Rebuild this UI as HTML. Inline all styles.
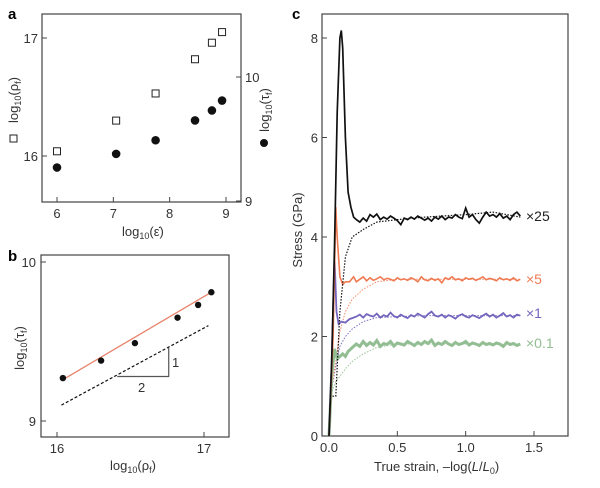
<!DOCTYPE html>
<html><head><meta charset="utf-8"><style>
body{margin:0;background:#fff;}
svg{display:block;font-family:"Liberation Sans",sans-serif;}
</style></head><body>
<svg id="fig" width="600" height="488" viewBox="0 0 600 488"></svg>
<script>
// ---- Panel a data ----
const aStrainRate = [6.0, 7.05, 7.75, 8.45, 8.75, 8.93];
const aRho = [16.04, 16.30, 16.53, 16.82, 16.96, 17.05];
const aTau = [9.27, 9.38, 9.49, 9.65, 9.73, 9.81];
const aXTicks = [6, 7, 8, 9];
const aYTicks = [16, 17];
const aY2Ticks = [9, 10];
// ---- Panel b data ----
const bFitX = [16.04, 17.05];
const bFitY = [9.26, 9.81];
const bRefX = [16.03, 17.03];
const bRefY = [9.10, 9.60];
const bXTicks = [16, 17];
const bYTicks = [9, 10];
// ---- Panel c data ----
const cXTicks = [0.0, 0.5, 1.0, 1.5];
const cXTickLabels = ["0.0", "0.5", "1.0", "1.5"];
const cYTicks = [0, 2, 4, 6, 8];
const plateauStart = 0.2, plateauStep = 0.025;
const blackRiseX = [0, 0.02, 0.04, 0.06, 0.08, 0.09, 0.1, 0.12, 0.14, 0.16, 0.18];
const blackRiseY = [0, 1.5, 3.8, 6.5, 8.0, 8.15, 7.8, 6.0, 4.9, 4.6, 4.4];
const blackPlateau = [4.35,4.3,4.38,4.32,4.45,4.4,4.46,4.35,4.4,4.36,4.42,4.38,4.33,4.25,4.38,4.35,4.4,4.36,4.42,4.38,4.34,4.38,4.32,4.4,4.36,4.42,4.35,4.4,4.38,4.45,4.4,4.37,4.58,4.4,4.45,4.35,4.28,4.4,4.5,4.42,4.45,4.4,4.47,4.38,4.42,4.35,4.45,4.5,4.42];
const orangeRiseX = [0, 0.03, 0.05, 0.06, 0.08, 0.1, 0.12, 0.15, 0.18];
const orangeRiseY = [0, 2.0, 4.6, 4.0, 3.2, 3.05, 3.1, 3.1, 3.2];
const orangePlateau = [3.1,3.15,3.2,3.12,3.18,3.13,3.16,3.2,3.14,3.17,3.15,3.12,3.18,3.14,3.16,3.13,3.18,3.15,3.1,3.2,3.14,3.12,3.17,3.13,3.16,3.08,3.18,3.15,3.2,3.14,3.16,3.12,3.18,3.15,3.17,3.13,3.16,3.2,3.14,3.17,3.15,3.12,3.18,3.14,3.16,3.13,3.18,3.12,3.15];
const purpleRiseX = [0, 0.02, 0.04, 0.055, 0.07, 0.09, 0.12, 0.15, 0.18];
const purpleRiseY = [0, 1.5, 3.6, 2.5, 2.25, 2.3, 2.28, 2.35, 2.38];
const purplePlateau = [2.4,2.44,2.38,2.45,2.42,2.4,2.46,2.38,2.43,2.4,2.48,2.41,2.38,2.44,2.4,2.37,2.43,2.4,2.46,2.42,2.38,2.45,2.5,2.42,2.4,2.44,2.38,2.43,2.4,2.36,2.42,2.45,2.4,2.38,2.43,2.4,2.37,2.42,2.46,2.4,2.44,2.38,2.42,2.47,2.4,2.43,2.38,2.44,2.42];
const greenRiseX = [0, 0.02, 0.04, 0.06, 0.08, 0.1, 0.12, 0.14, 0.16, 0.18];
const greenRiseY = [0, 1.2, 1.75, 1.55, 1.6, 1.65, 1.6, 1.7, 1.75, 1.8];
const greenPlateau = [1.85,1.8,1.9,1.82,1.88,1.83,1.92,1.8,1.86,1.84,1.9,1.81,1.87,1.85,1.83,1.9,1.86,1.82,1.88,1.84,1.9,1.86,1.93,1.82,1.87,1.84,1.9,1.85,1.82,1.88,1.84,1.86,1.9,1.83,1.87,1.85,1.82,1.88,1.84,1.86,1.83,1.87,1.85,1.8,1.88,1.84,1.86,1.82,1.85];
const dotX = [0, 0.01, 0.05, 0.08, 0.12, 0.17, 0.25, 0.35, 0.5, 0.7, 1.0, 1.2, 1.4];
const blackDot = [0, 0.8, 0.8, 2.5, 3.6, 4.0, 4.15, 4.3, 4.35, 4.4, 4.45, 4.5, 4.4];
const orangeDot = [0, 0.8, 1.5, 2.1, 2.5, 2.75, 2.95, 3.1, 3.15, 3.15, 3.15, 3.15, 3.15];
const purpleDot = [0, 0.8, 1.4, 1.8, 2.0, 2.15, 2.3, 2.38, 2.4, 2.42, 2.42, 2.42, 2.42];
const greenDot = [0, 0.8, 1.1, 1.2, 1.35, 1.5, 1.65, 1.78, 1.85, 1.85, 1.85, 1.85, 1.85];

const NS = "http://www.w3.org/2000/svg";
const svg = document.getElementById("fig");
function mk(tag, attrs, name, parent) {
  const e = document.createElementNS(NS, tag);
  for (const k in attrs) e.setAttribute(k, attrs[k]);
  
  
  (parent || svg).appendChild(e);
  return e;
}
function txt(x, y, s, name, extra) {
  const t = mk("text", Object.assign({x: x, y: y, "font-size": 13, fill: "#333"}, extra || {}), name);
  t.textContent = s;
  return t;
}
function lin(d0, d1, r0, r1) { return v => r0 + (v - d0) * (r1 - r0) / (d1 - d0); }
const AX = "#444";

// ===== Panel a =====
const ax = lin(6, 9, 57, 226), ayL = lin(16, 17, 156, 38), ayR = lin(9, 10, 201, 77);
txt(8, 19, "a", "panel-a-label", {"font-weight": "bold", "font-size": 15, fill: "#000"});
mk("rect", {x: 42, y: 14, width: 199, height: 188, fill: "none", stroke: AX, "stroke-width": 1.2}, "panel-a-frame");
aXTicks.forEach(v => { mk("line", {x1: ax(v), x2: ax(v), y1: 202, y2: 197, stroke: AX}, "a-x-tick"); txt(ax(v), 218, String(v), "a-x-tick-label", {"text-anchor": "middle"}); });
aYTicks.forEach(v => { mk("line", {x1: 42, x2: 47, y1: ayL(v), y2: ayL(v), stroke: AX}, "a-y-tick"); txt(38, ayL(v) + 5, String(v), "a-y-tick-label", {"text-anchor": "end"}); });
aY2Ticks.forEach(v => { mk("line", {x1: 241, x2: 236, y1: ayR(v), y2: ayR(v), stroke: AX}, "a-y2-tick"); txt(245, ayR(v) + 5, String(v), "a-y2-tick-label"); });
txt(122, 236, "log", "a-x-axis-title").innerHTML = 'log<tspan font-size="9" dy="3">10</tspan><tspan dy="-3">(ε̇)</tspan>';
const aYt = txt(0, 0, "", "a-y-axis-title", {transform: "translate(18,100) rotate(-90)", "text-anchor": "middle"});
aYt.innerHTML = 'log<tspan font-size="9" dy="3">10</tspan><tspan dy="-3">(ρ</tspan><tspan font-size="9" dy="3">f</tspan><tspan dy="-3">)</tspan>';
mk("rect", {x: 10, y: 135, width: 7, height: 7, fill: "none", stroke: "#222"}, "a-square-legend-marker");
const aY2t = txt(0, 0, "", "a-y2-axis-title", {transform: "translate(269,110) rotate(-90)", "text-anchor": "middle"});
aY2t.innerHTML = 'log<tspan font-size="9" dy="3">10</tspan><tspan dy="-3">(τ</tspan><tspan font-size="9" dy="3">f</tspan><tspan dy="-3">)</tspan>';
mk("circle", {cx: 264, cy: 143, r: 4, fill: "#111"}, "a-circle-legend-marker");
aStrainRate.forEach((v, i) => {
  mk("rect", {x: ax(v) - 3.5, y: ayL(aRho[i]) - 3.5, width: 7, height: 7, fill: "#fff", stroke: "#222"}, "a-rho-point");
  mk("circle", {cx: ax(v), cy: ayR(aTau[i]), r: 4.3, fill: "#111"}, "a-tau-point");
});

// ===== Panel b =====
const bx = lin(16, 17, 57, 204), by = lin(9, 10, 421, 262);
txt(8, 261, "b", "panel-b-label", {"font-weight": "bold", "font-size": 15, fill: "#000"});
mk("rect", {x: 41, y: 255, width: 188, height: 182, fill: "none", stroke: AX, "stroke-width": 1.2}, "panel-b-frame");
bXTicks.forEach(v => { mk("line", {x1: bx(v), x2: bx(v), y1: 437, y2: 432, stroke: AX}, "b-x-tick"); txt(bx(v), 453, String(v), "b-x-tick-label", {"text-anchor": "middle"}); });
bYTicks.forEach(v => { mk("line", {x1: 41, x2: 46, y1: by(v), y2: by(v), stroke: AX}, "b-y-tick"); txt(36, by(v) + 5, String(v), "b-y-tick-label", {"text-anchor": "end"}); });
txt(110, 470, "", "b-x-axis-title").innerHTML = 'log<tspan font-size="9" dy="3">10</tspan><tspan dy="-3">(ρ</tspan><tspan font-size="9" dy="3">f</tspan><tspan dy="-3">)</tspan>';
txt(0, 0, "", "b-y-axis-title", {transform: "translate(24,348) rotate(-90)", "text-anchor": "middle"}).innerHTML = 'log<tspan font-size="9" dy="3">10</tspan><tspan dy="-3">(τ</tspan><tspan font-size="9" dy="3">f</tspan><tspan dy="-3">)</tspan>';
mk("line", {x1: bx(bFitX[0]), y1: by(bFitY[0]), x2: bx(bFitX[1]), y2: by(bFitY[1]), stroke: "#e8826a", "stroke-width": 1.3}, "b-fit-line");
mk("line", {x1: bx(bRefX[0]), y1: by(bRefY[0]), x2: bx(bRefX[1]), y2: by(bRefY[1]), stroke: "#111", "stroke-width": 1.2, "stroke-dasharray": "3,2"}, "b-slope-half-line");
mk("polyline", {points: `${bx(16.41)},${by(9.28)} ${bx(16.76)},${by(9.28)} ${bx(16.76)},${by(9.46)}`, fill: "none", stroke: "#555", "stroke-width": 1.2}, "b-slope-triangle");
txt(172, 367, "1", "b-slope-rise-label");
txt(138, 392, "2", "b-slope-run-label");
aRho.forEach((v, i) => mk("circle", {cx: bx(v), cy: by(aTau[i]), r: 3.2, fill: "#111"}, "b-point"));

// ===== Panel c =====
const cx = lin(0, 1.5, 329, 534), cy = lin(0, 8, 436, 38);
txt(292, 19, "c", "panel-c-label", {"font-weight": "bold", "font-size": 15, fill: "#000"});
mk("rect", {x: 322, y: 14, width: 246, height: 422, fill: "none", stroke: AX, "stroke-width": 1.2}, "panel-c-frame");
cXTicks.forEach((v, i) => { mk("line", {x1: cx(v), x2: cx(v), y1: 436, y2: 431, stroke: AX}, "c-x-tick"); txt(cx(v), 452, cXTickLabels[i], "c-x-tick-label", {"text-anchor": "middle"}); });
cYTicks.forEach(v => { mk("line", {x1: 322, x2: 327, y1: cy(v), y2: cy(v), stroke: AX}, "c-y-tick"); txt(318, cy(v) + 5, String(v), "c-y-tick-label", {"text-anchor": "end"}); });
txt(374, 471, "", "c-x-axis-title").innerHTML = 'True strain, –log(<tspan font-style="italic">L</tspan>/<tspan font-style="italic">L</tspan><tspan font-size="9" dy="3">0</tspan><tspan dy="-3">)</tspan>';
txt(0, 0, "Stress (GPa)", "c-y-axis-title", {transform: "translate(302,230) rotate(-90)", "text-anchor": "middle"});

function seriesPts(rx, ry, plat) {
  const p = rx.map((x, i) => [x, ry[i]]);
  plat.forEach((y, i) => p.push([plateauStart + i * plateauStep, y]));
  return p.map(q => cx(q[0]).toFixed(1) + "," + cy(q[1]).toFixed(1)).join(" ");
}
function dotPts(ys) { return dotX.map((x, i) => cx(x).toFixed(1) + "," + cy(ys[i]).toFixed(1)).join(" "); }

mk("polyline", {points: dotPts(greenDot), fill: "none", stroke: "#9cc49c", "stroke-width": 1, "stroke-dasharray": "1.5,1.5"}, "green-model-curve");
mk("polyline", {points: dotPts(purpleDot), fill: "none", stroke: "#7b6fc0", "stroke-width": 1, "stroke-dasharray": "1.5,1.5"}, "purple-model-curve");
mk("polyline", {points: dotPts(orangeDot), fill: "none", stroke: "#f08a66", "stroke-width": 1, "stroke-dasharray": "1.5,1.5"}, "orange-model-curve");
mk("polyline", {points: seriesPts(greenRiseX, greenRiseY, greenPlateau), fill: "none", stroke: "#93bd93", "stroke-width": 3}, "green-x0.1-curve");
mk("polyline", {points: seriesPts(purpleRiseX, purpleRiseY, purplePlateau), fill: "none", stroke: "#7565bd", "stroke-width": 1.8}, "purple-x1-curve");
mk("polyline", {points: seriesPts(orangeRiseX, orangeRiseY, orangePlateau), fill: "none", stroke: "#f07a52", "stroke-width": 1.6}, "orange-x5-curve");
mk("polyline", {points: dotPts(blackDot), fill: "none", stroke: "#111", "stroke-width": 1.2, "stroke-dasharray": "1.5,1.5"}, "black-model-curve");
mk("polyline", {points: seriesPts(blackRiseX, blackRiseY, blackPlateau), fill: "none", stroke: "#111", "stroke-width": 1.7}, "black-x25-curve");

txt(526, 221, "×25", "label-x25", {fill: "#222", "font-size": 14});
txt(526, 284, "×5", "label-x5", {fill: "#f07a52", "font-size": 14});
txt(526, 318, "×1", "label-x1", {fill: "#7565bd", "font-size": 14});
txt(526, 348, "×0.1", "label-x0.1", {fill: "#93bd93", "font-size": 14});
</script>
</body></html>
